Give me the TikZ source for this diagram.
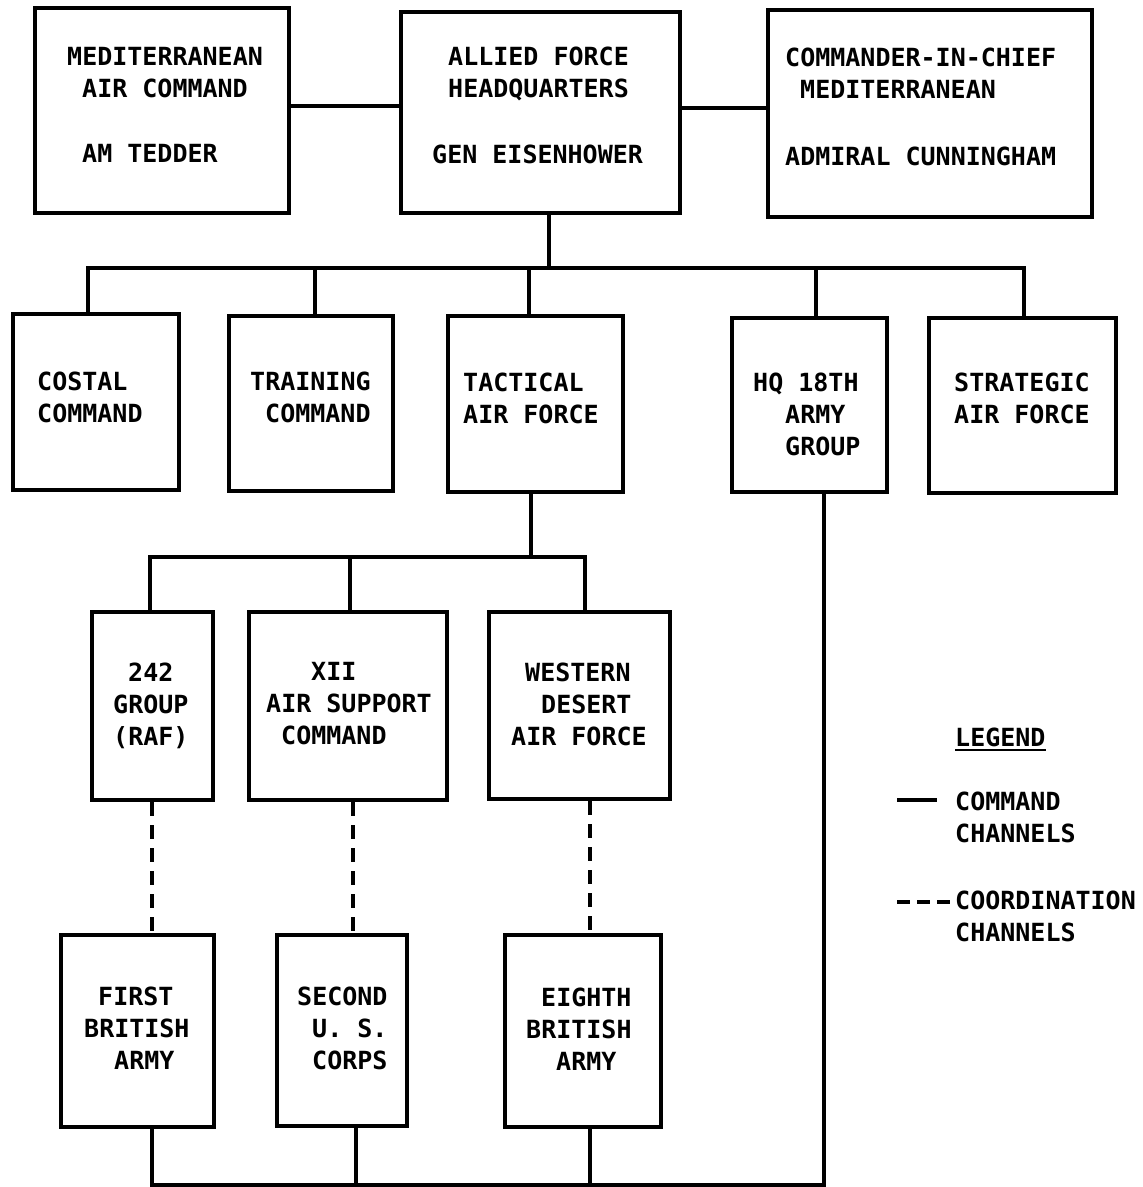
\documentclass[tikz,border=0pt]{standalone}
\usepackage{fontspec}
\newfontfamily\tfont{DejaVu Sans Mono}
\usetikzlibrary{fit}
\begin{document}
\begin{tikzpicture}[x=1pt,y=-1pt,
  box/.style={draw,line width=4pt,inner sep=0pt,line join=miter},
  lbl/.style={inner sep=0pt,anchor=base west,font={\tfont\bfseries\fontsize{25}{32}\selectfont}},
  cmd/.style={line width=4pt,line join=miter},
  crd/.style={line width=3.4pt,dash pattern=on 14pt off 9pt}]
\useasboundingbox (0,0) rectangle (1143,1187);
\fill[white] (0,0) rectangle (1143,1187);

% boxes
\node[box,fit={(35,8)(289,213)}] (mac) {};
\node[box,fit={(401,12)(680,213)}] (afhq) {};
\node[box,fit={(768,10)(1092,217)}] (cinc) {};
\node[box,fit={(13,314)(179,490)}] (costal) {};
\node[box,fit={(229,316)(393,491)}] (training) {};
\node[box,fit={(448,316)(623,492)}] (tactical) {};
\node[box,fit={(732,318)(887,492)}] (hq) {};
\node[box,fit={(929,318)(1116,493)}] (strategic) {};
\node[box,fit={(92,612)(213,800)}] (g242) {};
\node[box,fit={(249,612)(447,800)}] (xii) {};
\node[box,fit={(489,612)(670,799)}] (wdaf) {};
\node[box,fit={(61,935)(214,1127)}] (first) {};
\node[box,fit={(277,935)(407,1126)}] (second) {};
\node[box,fit={(505,935)(661,1127)}] (eighth) {};

% texts
\node[lbl] (mac1) at (67,65) {MEDITERRANEAN};
\node[lbl] (mac2) at (82,97) {AIR COMMAND};
\node[lbl] (mac3) at (82,162) {AM TEDDER};
\node[lbl] (afhq1) at (448,65) {ALLIED FORCE};
\node[lbl] (afhq2) at (448,97) {HEADQUARTERS};
\node[lbl] (afhq3) at (432,163) {GEN EISENHOWER};
\node[lbl] (cinc1) at (785,66) {COMMANDER-IN-CHIEF};
\node[lbl] (cinc2) at (800,98) {MEDITERRANEAN};
\node[lbl] (cinc3) at (785,165) {ADMIRAL CUNNINGHAM};
\node[lbl] (costal1) at (37,390) {COSTAL};
\node[lbl] (costal2) at (37,422) {COMMAND};
\node[lbl] (training1) at (250,390) {TRAINING};
\node[lbl] (training2) at (265,422) {COMMAND};
\node[lbl] (tactical1) at (463,391) {TACTICAL};
\node[lbl] (tactical2) at (463,423) {AIR FORCE};
\node[lbl] (hq1) at (753,391) {HQ 18TH};
\node[lbl] (hq2) at (785,423) {ARMY};
\node[lbl] (hq3) at (785,455) {GROUP};
\node[lbl] (strategic1) at (954,391) {STRATEGIC};
\node[lbl] (strategic2) at (954,423) {AIR FORCE};
\node[lbl] (g2421) at (128,681) {242};
\node[lbl] (g2422) at (113,713) {GROUP};
\node[lbl] (g2423) at (113,745) {(RAF)};
\node[lbl] (xii1) at (311,680) {XII};
\node[lbl] (xii2) at (266,712) {AIR SUPPORT};
\node[lbl] (xii3) at (281,744) {COMMAND};
\node[lbl] (wdaf1) at (525,681) {WESTERN};
\node[lbl] (wdaf2) at (541,713) {DESERT};
\node[lbl] (wdaf3) at (511,745) {AIR FORCE};
\node[lbl] (first1) at (98,1005) {FIRST};
\node[lbl] (first2) at (84,1037) {BRITISH};
\node[lbl] (first3) at (114,1069) {ARMY};
\node[lbl] (second1) at (297,1005) {SECOND};
\node[lbl] (second2) at (312,1037) {U. S.};
\node[lbl] (second3) at (312,1069) {CORPS};
\node[lbl] (eighth1) at (541,1006) {EIGHTH};
\node[lbl] (eighth2) at (526,1038) {BRITISH};
\node[lbl] (eighth3) at (556,1070) {ARMY};
\node[lbl] (leg) at (955,746) {LEGEND};
\node[lbl] (leg1) at (955,810) {COMMAND};
\node[lbl] (leg2) at (955,842) {CHANNELS};
\node[lbl] (leg3) at (955,909) {COORDINATION};
\node[lbl] (leg4) at (955,941) {CHANNELS};

% junction coordinates
\coordinate (c1) at (345,106);
\coordinate (c2) at (724,108);
\coordinate (j0) at (549,268);
\coordinate (s1) at (88,268);
\coordinate (s2) at (315,268);
\coordinate (s3) at (529,268);
\coordinate (s4) at (816,268);
\coordinate (s5) at (1024,268);
\coordinate (t0) at (531,557);
\coordinate (u1) at (150,557);
\coordinate (u2) at (350,557);
\coordinate (u3) at (585,557);
\coordinate (d1) at (152,868);
\coordinate (d2) at (353,868);
\coordinate (d3) at (590,868);
\coordinate (e1) at (152,1185);
\coordinate (e2) at (356,1185);
\coordinate (e3) at (590,1185);
\coordinate (e4) at (824,1185);

% command channels
\draw[cmd] (mac.east |- c1) -- (afhq.west |- c1);
\draw[cmd] (afhq.east |- c2) -- (cinc.west |- c2);
\draw[cmd] (afhq.south -| j0) -- (j0);
\draw[cmd] (costal.north -| s1) -- (s1) -- (s5) -- (strategic.north -| s5);
\draw[cmd] (s2) -- (training.north -| s2);
\draw[cmd] (s3) -- (tactical.north -| s3);
\draw[cmd] (s4) -- (hq.north -| s4);
\draw[cmd] (tactical.south -| t0) -- (t0);
\draw[cmd] (g242.north -| u1) -- (u1) -- (u3) -- (wdaf.north -| u3);
\draw[cmd] (u2) -- (xii.north -| u2);
\draw[cmd] (first.south -| e1) -- (e1) -- (e4) -- (hq.south -| e4);
\draw[cmd] (second.south -| e2) -- (e2);
\draw[cmd] (eighth.south -| e3) -- (e3);

% coordination channels
\draw[crd] (g242.south -| d1) -- (first.north -| d1);
\draw[crd] (xii.south -| d2) -- (second.north -| d2);
\draw[crd] (wdaf.south -| d3) -- (eighth.north -| d3);

% legend
\draw[line width=2.2pt] ([yshift=-4pt]leg.base west) -- ([yshift=-4pt]leg.base east);
\coordinate (la) at (897,800);
\coordinate (lb) at (937,800);
\coordinate (lc) at (897,902);
\coordinate (ld) at (950,902);
\draw[line width=3.2pt] (la) -- (lb);
\draw[line width=3.2pt,dash pattern=on 13pt off 7pt] (lc) -- (ld);
\end{tikzpicture}
\end{document}
